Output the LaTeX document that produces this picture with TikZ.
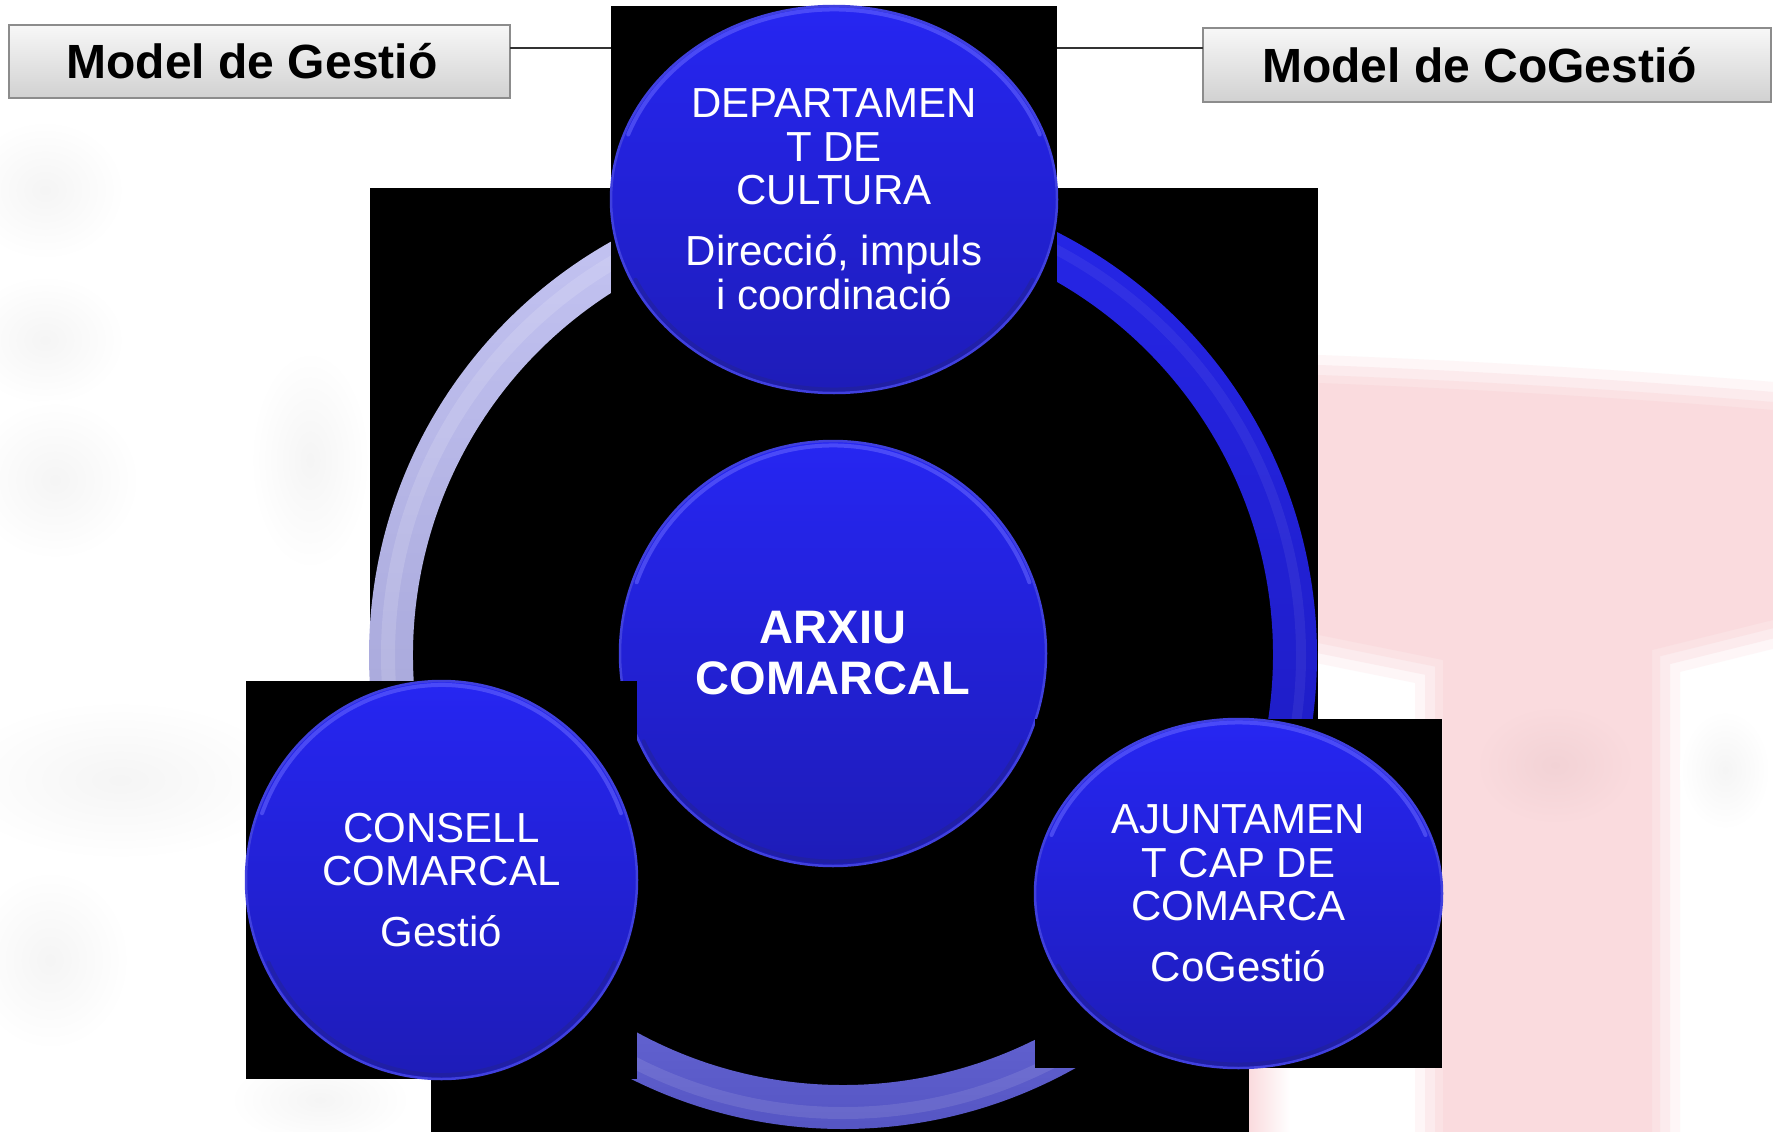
\documentclass[tikz,border=0pt]{standalone}
\usepackage{fontspec}
\setmainfont{Liberation Sans}
\usetikzlibrary{shapes.geometric,calc}
\definecolor{discTop}{RGB}{38,38,242}
\definecolor{discBot}{RGB}{30,28,184}
\definecolor{discRim}{RGB}{64,64,222}
\definecolor{rimHi}{RGB}{105,105,255}
\definecolor{rimLo}{RGB}{36,36,140}
\definecolor{lavTop}{RGB}{198,198,244}
\definecolor{lavBot}{RGB}{158,158,210}
\definecolor{ringBlueTop}{RGB}{38,38,232}
\definecolor{ringBlueBot}{RGB}{28,26,188}
\definecolor{ringMidTop}{RGB}{112,112,222}
\definecolor{ringMidBot}{RGB}{84,84,194}
\definecolor{wmPink}{RGB}{250,219,222}
\definecolor{wmPinkDk}{RGB}{242,210,213}
\definecolor{hdrLine}{RGB}{50,50,50}
\newcommand\discglow[3]{%
  \draw[rimHi, line width=4pt, line cap=round, opacity=0.55]
    ($(#1.center)+(160:#2pt and #3pt)$) arc[start angle=160, end angle=20, x radius=#2pt, y radius=#3pt];
  \draw[rimLo, line width=4pt, line cap=round, opacity=0.45]
    ($(#1.center)+(205:#2pt and #3pt)$) arc[start angle=205, end angle=335, x radius=#2pt, y radius=#3pt];
}
\newcommand\pinkshape{(1319,-383) .. controls (1500,-390) and (1650,-400) .. (1773,-410)
  -- (1773,-620) -- (1652,-650) -- (1652,-1132) -- (1443,-1132) -- (1443,-660) -- (1319,-635) -- cycle}
\begin{document}
\begin{tikzpicture}[x=1pt,y=1pt,
  blk/.style={rectangle, fill=black, draw=none, inner sep=0pt, outer sep=0pt},
  disc/.style={ellipse, inner sep=0pt, outer sep=0pt, top color=discTop, bottom color=discBot,
    draw=discRim, line width=2.5pt, text=white, align=center, font=\fontsize{42}{43.5}\selectfont},
  hdr/.style={rectangle, inner sep=0pt, outer sep=0pt, top color=white!97!black, bottom color=black!18,
    draw=black!45, line width=1.2pt, font=\bfseries\fontsize{48}{52}\selectfont},
  blob/.style={inner color=black!4, outer color=white},
]
\useasboundingbox (0,0) rectangle (1773,-1132);
\fill[white] (0,0) rectangle (1773,-1132);

% faint blurred watermark
\shade[blob] (45,-190) ellipse [x radius=80pt, y radius=70pt];
\shade[blob] (45,-340) ellipse [x radius=80pt, y radius=65pt];
\shade[blob] (55,-480) ellipse [x radius=85pt, y radius=80pt];
\shade[blob] (120,-780) ellipse [x radius=170pt, y radius=80pt];
\shade[blob] (50,-960) ellipse [x radius=80pt, y radius=90pt];
\shade[blob] (310,-460) ellipse [x radius=60pt, y radius=110pt];
\shade[blob] (320,-1100) ellipse [x radius=90pt, y radius=45pt];
\draw[wmPink!25!white, line width=56pt, line join=round] \pinkshape;
\draw[wmPink!55!white, line width=36pt, line join=round] \pinkshape;
\draw[wmPink!80!white, line width=16pt, line join=round] \pinkshape;
\fill[wmPink] \pinkshape;
\shade[inner color=wmPinkDk, outer color=wmPink] (1555,-765) ellipse [x radius=80pt, y radius=60pt];
\shade[blob] (1725,-770) ellipse [x radius=45pt, y radius=60pt];
\shade[left color=wmPink, right color=white] (1249,-1068) rectangle (1290,-1132);

% black backdrops of the ring segments
\node[blk, minimum width=948pt, minimum height=532pt] (bgring) at (844,-454) {};
\node[blk, minimum width=818pt, minimum height=432pt] (bgbot) at (840,-916) {};

% ring segments
\coordinate (C) at (843,-655);
\shade[top color=lavTop, bottom color=lavBot]
  ($(C)+(85:474pt)$) arc[start angle=85, end angle=215, radius=474pt]
  -- ($(C)+(215:430pt)$) arc[start angle=215, end angle=85, radius=430pt] -- cycle;
\shade[top color=ringMidTop, bottom color=ringMidBot]
  ($(C)+(215:474pt)$) arc[start angle=215, end angle=320, radius=474pt]
  -- ($(C)+(320:430pt)$) arc[start angle=320, end angle=215, radius=430pt] -- cycle;
\shade[top color=ringBlueTop, bottom color=ringBlueBot]
  ($(C)+(-40:474pt)$) arc[start angle=-40, end angle=85, radius=474pt]
  -- ($(C)+(85:430pt)$) arc[start angle=85, end angle=-40, radius=430pt] -- cycle;
\draw[white, opacity=0.14, line width=14pt] ($(C)+(85:455pt)$) arc[start angle=85, end angle=215, radius=455pt];
\draw[white, opacity=0.10, line width=12pt] ($(C)+(215:458pt)$) arc[start angle=215, end angle=320, radius=458pt];
\draw[white, opacity=0.06, line width=10pt] ($(C)+(-40:458pt)$) arc[start angle=-40, end angle=85, radius=458pt];

% centre
\node[disc, minimum width=426pt, minimum height=425pt, font=\bfseries\fontsize{47}{51}\selectfont]
  (arxiu) at (833,-653.5) {ARXIU\\COMARCAL};
\discglow{arxiu}{209}{208}

% top
\node[blk, minimum width=446pt, minimum height=387pt] (bgtop) at (834,-199.5) {};
\node[disc, minimum width=446pt, minimum height=387pt] (dept) at (834,-199.5)
  {DEPARTAMEN\\T DE\\CULTURA\\[17.5pt]Direcció, impuls\\i coordinació};
\discglow{dept}{219}{190}

% bottom left
\node[blk, minimum width=391pt, minimum height=398pt] (bgcons) at (441.5,-880) {};
\node[disc, minimum width=391pt, minimum height=398pt] (consell) at (441.5,-880)
  {CONSELL\\COMARCAL\\[17.5pt]Gestió};
\discglow{consell}{191}{195}

% bottom right
\node[blk, minimum width=407pt, minimum height=349pt] (bgajunt) at (1238.5,-893.5) {};
\node[disc, minimum width=407pt, minimum height=349pt] (ajunt) at (1238.5,-893.5)
  {AJUNTAMEN\\T CAP DE\\COMARCA\\[17.5pt]CoGestió};
\discglow{ajunt}{199}{171}

% headers
\node[hdr, minimum width=501pt, minimum height=73pt] (hgest) at (259.5,-61.5) {Model de Gestió\hspace*{15pt}};
\node[hdr, minimum width=568pt, minimum height=74pt] (hcog) at (1487,-65) {Model de CoGestió\hspace*{15pt}};
\draw[hdrLine, line width=1.5pt] (hgest.east |- 0,-48) -- (bgtop.west |- 0,-48);
\draw[hdrLine, line width=1.5pt] (bgtop.east |- 0,-48) -- (hcog.west |- 0,-48);
\end{tikzpicture}
\end{document}
